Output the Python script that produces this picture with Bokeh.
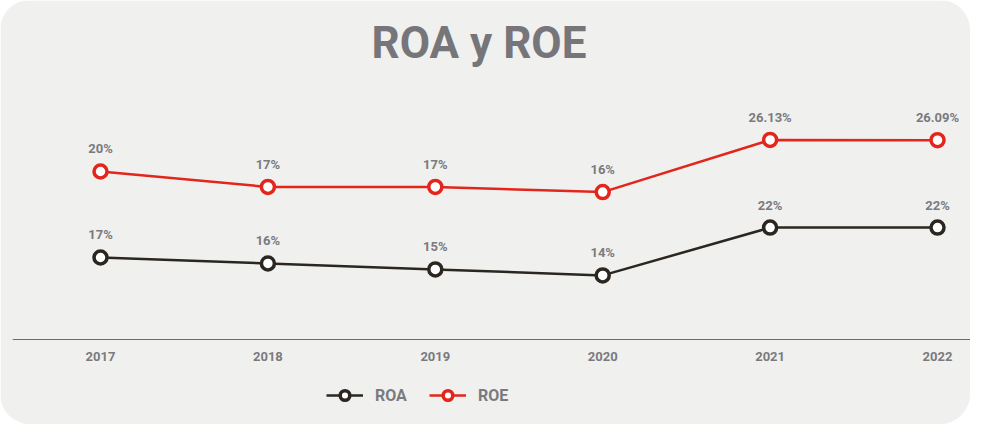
from bokeh.plotting import figure
from bokeh.models import (Range1d, Legend, LegendItem, ColumnDataSource, LabelSet,
                          FixedTicker)
from bokeh.core.properties import value
from bokeh.embed import file_html
from bokeh.resources import INLINE

# ---- data ----
years = [2017, 2018, 2019, 2020, 2021, 2022]
year_labels = ["2017", "2018", "2019", "2020", "2021", "2022"]
roa = [17, 16, 15, 14, 22, 22]
roe = [20, 17, 17, 16, 26.13, 26.09]
roa_labels = ["17%", "16%", "15%", "14%", "22%", "22%"]
roe_labels = ["20%", "17%", "17%", "16%", "26.13%", "26.09%"]

BG = "#f0f0ef"
RED = "#e2261b"
DARK = "#2b2720"
GREY = "#7a7a7e"

src = ColumnDataSource(dict(x=years, roa=roa, roe=roe,
                            roa_lab=roa_labels, roe_lab=roe_labels))

p = figure(width=970, height=424, title="ROA y ROE",
           output_backend="svg", toolbar_location=None,
           x_range=Range1d(2016.4743, 2022.197),
           y_range=Range1d(-10.95, 46.62),
           min_border_left=12, min_border_right=0,
           min_border_top=80, min_border_bottom=0,
           background_fill_color=BG, border_fill_color=BG,
           styles={"border-radius": "30px", "overflow": "hidden"})
p.extra_y_ranges = {"roe": Range1d(-29.16, 37.68)}
p.outline_line_color = BG
p.outline_line_width = 3
p.grid.visible = False
p.yaxis.visible = False

p.title.align = "left"
p.title.offset = 359
p.title.text_font = "Roboto"
p.title.text_font_style = "bold"
p.title.text_font_size = "44px"
p.title.text_color = "#76767a"
p.title.standoff = 24

xa = p.xaxis[0]
xa.fixed_location = 3.272
xa.ticker = FixedTicker(ticks=years)
xa.major_label_overrides = {y: l for y, l in zip(years, year_labels)}
xa.axis_line_color = "#6b6b6b"
xa.axis_line_width = 1.2
xa.major_tick_line_color = None
xa.minor_tick_line_color = None
xa.major_label_standoff = 6
xa.major_label_text_font = "Roboto"
xa.major_label_text_font_style = "bold"
xa.major_label_text_font_size = "13px"
xa.major_label_text_color = GREY

roa_line = p.line("x", "roa", source=src, line_color=DARK, line_width=2.5)
roa_pts = p.scatter("x", "roa", source=src, size=13, line_width=3.5,
                    line_color=DARK, fill_color="white")
roe_line = p.line("x", "roe", source=src, line_color=RED, line_width=2.5,
                  y_range_name="roe")
roe_pts = p.scatter("x", "roe", source=src, size=13, line_width=3.5,
                    line_color=RED, fill_color="white", y_range_name="roe")

for ycol, tcol, rng in (("roa", "roa_lab", "default"), ("roe", "roe_lab", "roe")):
    ls = LabelSet(x="x", y=ycol, text=tcol, source=src, y_range_name=rng,
                  y_offset=18, text_align="center", text_baseline="alphabetic",
                  text_font=value("Roboto"), text_font_style="bold",
                  text_font_size="13px", text_color=GREY)
    p.add_layout(ls)

legend = Legend(items=[LegendItem(label="ROA", renderers=[roa_line, roa_pts]),
                       LegendItem(label="ROE", renderers=[roe_line, roe_pts])],
                orientation="horizontal", location=(314, 17),
                glyph_width=37, glyph_height=24, label_standoff=12, spacing=22,
                label_text_font="Roboto", label_text_font_style="bold",
                label_text_font_size="16px", label_text_color=GREY,
                background_fill_alpha=0, border_line_color=None,
                margin=0, padding=0)
p.add_layout(legend)

open("out.html", "w").write(file_html(p, INLINE))
